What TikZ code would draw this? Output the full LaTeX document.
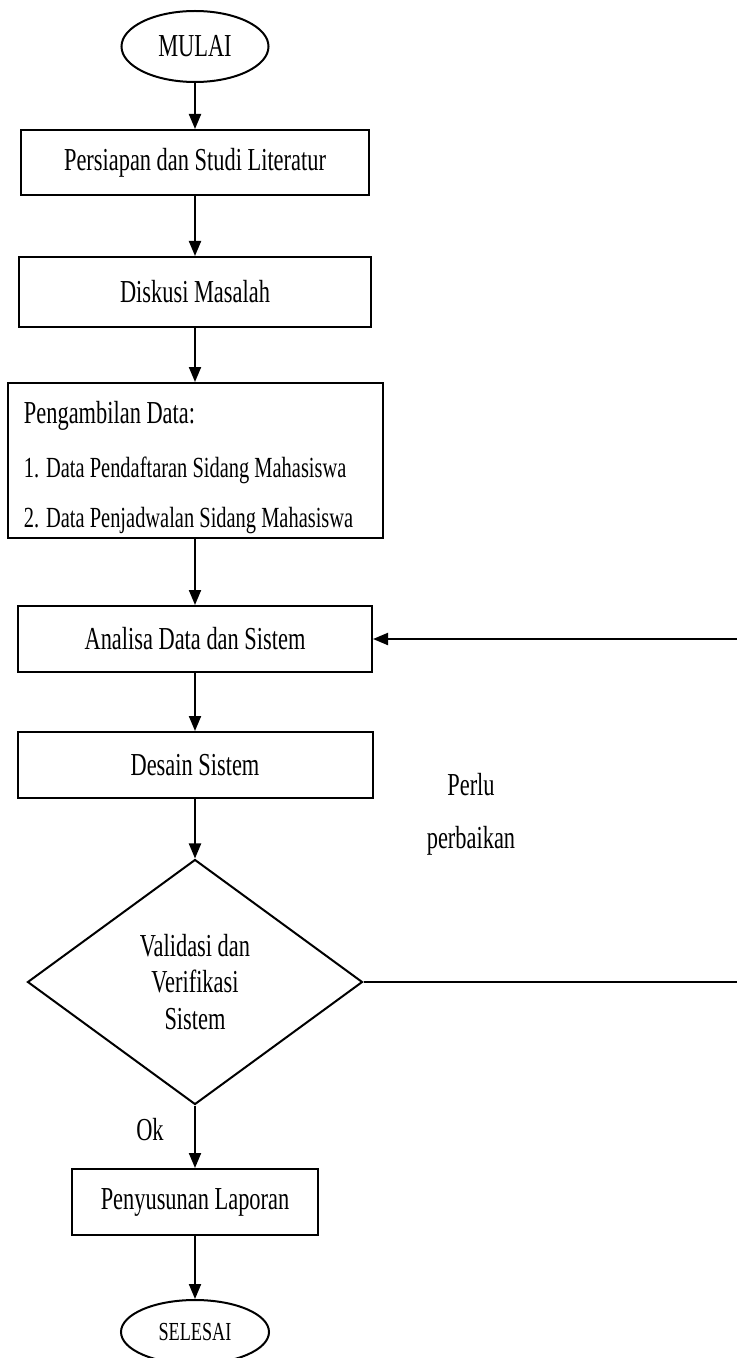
\documentclass[tikz,border=0pt]{standalone}
\usepackage{fontspec}
\setmainfont[FakeStretch=0.7]{Liberation Serif}
\usetikzlibrary{shapes.geometric,arrows.meta}

\begin{document}
\begin{tikzpicture}[x=0.5pt, y=-0.5pt, line width=1pt,
    >={Triangle[length=7.5pt,width=6pt]},
    box/.style={rectangle, draw, font=\fontsize{16}{19}\selectfont},
    terminal/.style={ellipse, draw, inner sep=0pt}]
    \useasboundingbox (0,0) rectangle (736,1358);

    % Draw start and end
    \node[terminal, minimum width=73.5pt, minimum height=35.5pt, font=\fontsize{16}{19}\selectfont] (mulai) at (195, 46.5) {MULAI};
    \node[terminal, minimum width=74pt, minimum height=32pt, font=\fontsize{13}{15}\selectfont] (selesai) at (195, 1332) {SELESAI};

    % Draw nodes for the steps
    \node[box, minimum width=174pt, minimum height=32.5pt] (persiapan) at (195, 162.5) {Persiapan dan Studi Literatur};
    \node[box, minimum width=176pt, minimum height=35pt] (diskusi) at (195, 292) {Diskusi Masalah};
    \node[box, minimum width=187.5pt, minimum height=77.5pt] (data) at (195, 460.5) {};
    \node[anchor=base west, inner sep=0pt, font=\fontsize{16}{19}\selectfont] (datajudul) at (23, 423) {Pengambilan Data:};
    \node[anchor=base west, inner sep=0pt, font=\fontsize{14.6}{17}\selectfont] (datasatu) at (23, 477) {1. Data Pendaftaran Sidang Mahasiswa};
    \node[anchor=base west, inner sep=0pt, font=\fontsize{14.6}{17}\selectfont] (datadua) at (23, 527) {2. Data Penjadwalan Sidang Mahasiswa};
    \node[box, minimum width=177pt, minimum height=33pt] (analisa) at (195, 639) {Analisa Data dan Sistem};
    \node[box, minimum width=177.5pt, minimum height=33pt] (desain) at (195, 765) {Desain Sistem};
    \node[diamond, draw, minimum width=167.5pt, minimum height=122.5pt, inner sep=0pt, align=center, font=\fontsize{16}{18.25}\selectfont] (validasi) at (195, 982) {Validasi dan\\Verifikasi\\Sistem};
    \node[box, minimum width=123pt, minimum height=33pt] (laporan) at (195, 1202) {Penyusunan Laporan};

    % Draw labels
    \node[anchor=base, font=\fontsize{16}{19}\selectfont] (perlu) at (471, 795) {Perlu};
    \node[anchor=base, font=\fontsize{16}{19}\selectfont] (perbaikan) at (471, 848) {perbaikan};
    \node[anchor=base, font=\fontsize{16}{19}\selectfont] (ok) at (150, 1140) {Ok};

    % Draw edges
    \draw[->] (mulai) -- (persiapan);
    \draw[->] (persiapan) -- (diskusi);
    \draw[->] (diskusi) -- (data);
    \draw[->] (data) -- (analisa);
    \draw[->] (analisa) -- (desain);
    \draw[->] (desain) -- (validasi);
    \draw[->] (validasi) -- (laporan);
    \draw[->] (laporan) -- (selesai);

    % Draw loop back for corrections
    \coordinate (kanan) at (750, 982);
    \draw[->] (validasi.east) -- (kanan) |- (analisa.east);
\end{tikzpicture}
\end{document}
